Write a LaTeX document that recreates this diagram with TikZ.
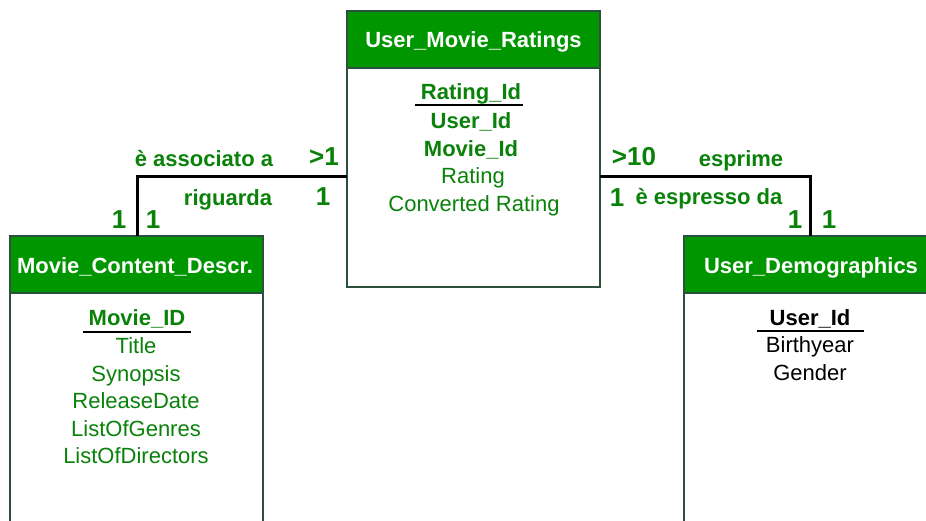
\documentclass[tikz,border=0pt]{standalone}
\usepackage{fontspec}
\setmainfont{Liberation Sans}
\definecolor{hdrgreen}{RGB}{0,150,0}
\definecolor{txtgreen}{RGB}{10,130,10}
\definecolor{edge}{RGB}{45,80,60}
\begin{document}
\begin{tikzpicture}[x=1pt,y=-1pt,
  hdr/.style={fill=hdrgreen,draw=edge,line width=1.6pt},
  frame/.style={draw=edge,line width=1.6pt},
  title/.style={text=white,font=\fontsize{22}{26}\selectfont\bfseries,anchor=center,inner sep=0pt},
  attr/.style={text=txtgreen,font=\fontsize{22}{26}\selectfont,anchor=center,inner sep=0pt},
  keyattr/.style={attr,font=\fontsize{22}{26}\selectfont\bfseries},
  rel/.style={text=txtgreen,font=\fontsize{22}{26}\selectfont\bfseries,anchor=center,inner sep=0pt},
  card/.style={text=txtgreen,font=\fontsize{26}{30}\selectfont\bfseries,anchor=center,inner sep=0pt},
  link/.style={draw=black,line width=3pt},
  sep/.style={draw=black,line width=1.2pt}]
\useasboundingbox (0,0) rectangle (926,521);
\fill[white] (0,0) rectangle (926,521);

% User_Movie_Ratings table
\draw[frame] (347,11) rectangle (600,287);
\draw[hdr] (347,11) rectangle (600,68);
\node[title] (umr) at (473.5,42) {User\_Movie\_Ratings};
\node[keyattr] (umr1) at (471,94) {Rating\_Id};
\draw[sep] (415,105) -- (523,105);
\node[keyattr] (umr2) at (471,122) {User\_Id};
\node[keyattr] (umr3) at (471,150) {Movie\_Id};
\node[attr] (umr4) at (473,178) {Rating};
\node[attr] (umr5) at (474,206) {Converted Rating};
\coordinate (umrL) at (347,177);
\coordinate (umrR) at (600,177);

% Movie_Content_Descr. table (runs past the lower edge)
\draw[frame] (10,530) -- (10,236) -- (263,236) -- (263,530);
\draw[hdr] (10,236) rectangle (263,293);
\node[title] (mcd) at (135,267) {Movie\_Content\_Descr.};
\node[keyattr] (mcd1) at (137,319) {Movie\_ID};
\draw[sep] (83,332) -- (191,332);
\node[attr] (mcd2) at (136,346) {Title};
\node[attr] (mcd3) at (136,376) {Synopsis};
\node[attr] (mcd4) at (136,401) {ReleaseDate};
\node[attr] (mcd5) at (136,429) {ListOfGenres};
\node[attr] (mcd6) at (136,456) {ListOfDirectors};
\coordinate (mcdT) at (137,236);

% User_Demographics table (runs past the right and lower edges)
\draw[frame] (684,530) -- (684,236) -- (940,236);
\draw[hdr] (684,236) rectangle (940,293);
\node[title] (ud) at (811,268) {User\_Demographics};
\node[keyattr,text=black] (ud1) at (810,319) {User\_Id};
\draw[sep] (757,331) -- (864,331);
\node[attr,text=black] (ud2) at (810,347) {Birthyear};
\node[attr,text=black] (ud3) at (810,373) {Gender};
\coordinate (udT) at (810,236);

% relationships
\draw[link] (umrL) -| (mcdT);
\draw[link] (umrR) -| (udT);

\node[rel] (l1) at (204,159) {è associato a};
\node[card] (c1) at (324,157) {>1};
\node[rel] (l2) at (228,200) {riguarda};
\node[card] (c2) at (323,197) {1};
\node[card] (c3) at (119,220) {1};
\node[card] (c4) at (153,220) {1};

\node[card] (c5) at (634,157) {>10};
\node[rel] (l3) at (741,161) {esprime};
\node[card] (c6) at (617,198) {1};
\node[rel] (l4) at (709,199) {è espresso da};
\node[card] (c7) at (795,220) {1};
\node[card] (c8) at (829,220) {1};
\end{tikzpicture}
\end{document}
